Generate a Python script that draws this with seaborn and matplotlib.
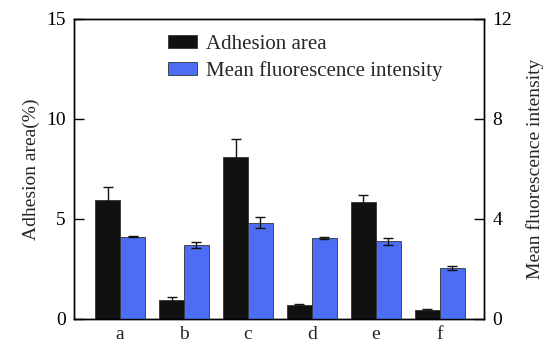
import pandas as pd
import numpy as np
import seaborn as sns
import matplotlib.pyplot as plt
from matplotlib.patches import Patch

# Data
groups = ['a', 'b', 'c', 'd', 'e', 'f']
adhesion_area = [5.95, 0.95, 8.1, 0.7, 5.83, 0.45]          # %
adhesion_err = [0.65, 0.15, 0.9, 0.05, 0.37, 0.05]
mean_intensity = [3.29, 2.96, 3.85, 3.24, 3.10, 2.05]       # a.u.
intensity_err = [0.03, 0.12, 0.23, 0.05, 0.15, 0.08]

series = ['Adhesion area', 'Mean fluorescence intensity']
colors = ['#111111', '#4b6ef5']

# Long table: each series only gets values on its own axis
df_left = pd.DataFrame({'group': groups * 2,
                        'series': [series[0]] * 6 + [series[1]] * 6,
                        'value': adhesion_area + [np.nan] * 6})
df_right = pd.DataFrame({'group': groups * 2,
                         'series': [series[0]] * 6 + [series[1]] * 6,
                         'value': [np.nan] * 6 + mean_intensity})

sns.set_theme(style='ticks')
plt.rcParams['font.family'] = ['Liberation Serif', 'DejaVu Serif']
plt.rcParams['font.size'] = 14

fig = plt.figure(figsize=(5.47, 3.44), dpi=100)
ax1 = fig.add_axes([0.1353, 0.0727, 0.7495, 0.8721])
ax2 = ax1.twinx()

bar_kw = dict(x='group', y='value', hue='series', hue_order=series,
              palette=colors, saturation=1, errorbar=None, width=0.78,
              edgecolor='#333333', linewidth=0.6, legend=False)
sns.barplot(data=df_left, ax=ax1, **bar_kw)
sns.barplot(data=df_right, ax=ax2, **bar_kw)

# error bars at bar centers
def add_errors(ax, values, errs):
    bars = [p for p in ax.patches if np.isfinite(p.get_height()) and p.get_height() > 0]
    bars = sorted(bars, key=lambda p: p.get_x())
    xs = [p.get_x() + p.get_width() / 2 for p in bars]
    ax.errorbar(xs, values, yerr=errs, fmt='none', ecolor='#111111',
                elinewidth=1.0, capsize=3.5, capthick=1.0, zorder=3)

add_errors(ax1, adhesion_area, adhesion_err)
add_errors(ax2, mean_intensity, intensity_err)

ax1.set_xlim(-0.72, 5.69)
ax1.set_ylim(0, 15)
ax2.set_ylim(0, 12)
ax1.set_yticks([0, 5, 10, 15])
ax2.set_yticks([0, 4, 8, 12])

ax1.set_xlabel('')
ax1.set_ylabel('Adhesion area(%)', fontsize=14, labelpad=4)
ax2.set_ylabel('Mean fluorescence intensity', fontsize=14, labelpad=10)

for ax in (ax1, ax2):
    for side in ax.spines.values():
        side.set_linewidth(1.0)
        side.set_color('black')
    ax.tick_params(axis='y', direction='in', length=7, width=1.0, labelsize=14,
                   colors='black', pad=6)
ax1.tick_params(axis='x', length=0, labelsize=14, pad=5)

handles = [Patch(facecolor=c, edgecolor='#333333', linewidth=0.6) for c in colors]
leg = ax1.legend(handles, series, loc='upper left', bbox_to_anchor=(0.21, 0.975),
                 frameon=False, fontsize=15, handlelength=1.35, handleheight=0.6,
                 handletextpad=0.45, labelspacing=0.35, borderaxespad=0.0)

fig.savefig('out.png', dpi=100)
